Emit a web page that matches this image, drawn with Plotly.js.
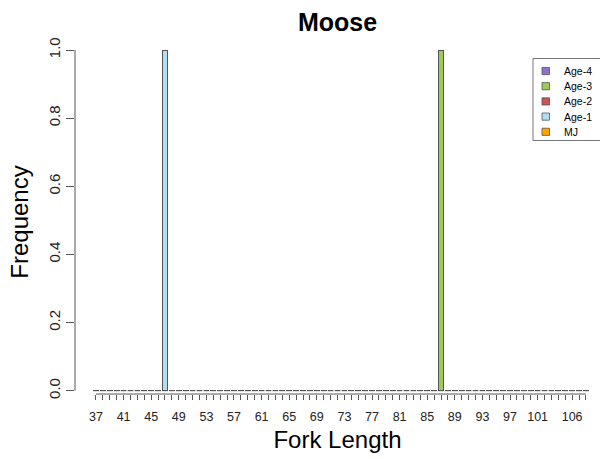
<!DOCTYPE html>
<html>
<head>
<meta charset="utf-8">
<script src="https://cdn.plot.ly/plotly-3.0.1.min.js"></script>
<style>html,body{margin:0;padding:0;background:#fff;}#chart{width:600px;height:459px;}</style>
</head>
<body>
<div id="chart"></div>
<script>
// Fork length categories (37..108)
const categories = [];
for (let c = 37; c <= 108; c++) categories.push(c);

// Labels that R managed to print without overlap
const shownLabels = [37,41,45,49,53,57,61,65,69,73,77,81,85,89,93,97,101,106];

// Series (frequency by fork length), sparse values
const seriesNames = ['MJ', 'Age-1', 'Age-2', 'Age-3', 'Age-4'];
const seriesColors = ['#FFA500', '#B0DCF4', '#CD5555', '#9CCB58', '#8E72D0'];
const mjValues   = {};
const age1Values = {47: 1};
const age2Values = {};
const age3Values = {87: 1};
const age4Values = {};
const seriesValues = [mjValues, age1Values, age2Values, age3Values, age4Values];

const barWidth = 1 / 1.2;
const edge = '#555555';

const traces = seriesNames.map((name, i) => ({
  type: 'bar',
  name: name,
  x: categories,
  y: categories.map(c => seriesValues[i][c] || 0),
  width: barWidth,
  marker: {color: seriesColors[i], line: {color: edge, width: 1}},
  hoverinfo: 'x+y+name',
  showlegend: false
}));

// zero-height bar outlines (R draws them as short segments on the baseline)
const bx = [], by = [];
categories.forEach(c => { bx.push(c - barWidth/2, c + barWidth/2, null); by.push(0, 0, null); });
traces.unshift({
  type: 'scatter', mode: 'lines', x: bx, y: by,
  line: {color: edge, width: 1}, showlegend: false, hoverinfo: 'skip'
});

const font = 'Liberation Sans, Arial, Helvetica, sans-serif';

// plot-area geometry (pixels) used to place the hand-drawn R-style legend
const M = {l: 75, r: 0, t: 50, b: 65};
const W = 600, H = 459;
const pw = W - M.l - M.r, ph = H - M.t - M.b;
const px2x = p => (p - M.l) / pw;
const px2y = p => (H - M.b - p) / ph;

const shapes = [
  {type: 'line', xref: 'paper', yref: 'y', x0: 0, x1: 0, y0: 0, y1: 1, line: {color: edge, width: 1}},
  {type: 'line', xref: 'x', yref: 'paper', x0: categories[0], x1: categories[categories.length-1], y0: 0, y1: 0, line: {color: edge, width: 1}}
];
const annotations = [];

// legend box (reversed order: Age-4 on top)
const legTop = 58.5, legLeft = 533, rowH = 15.2, firstRow = 71;
shapes.push({type: 'rect', xref: 'paper', yref: 'paper',
  x0: px2x(legLeft), x1: px2x(640), y0: px2y(legTop), y1: px2y(140.5),
  line: {color: '#777', width: 1}, fillcolor: 'rgba(255,255,255,0)'});
const order = seriesNames.map((n, i) => i).reverse();
order.forEach((si, k) => {
  const cy = firstRow + k * rowH;
  shapes.push({type: 'rect', xref: 'paper', yref: 'paper',
    x0: px2x(542), x1: px2x(549.5), y0: px2y(cy - 3.6), y1: px2y(cy + 3.6),
    line: {color: '#444', width: 0.7}, fillcolor: seriesColors[si]});
  annotations.push({xref: 'paper', yref: 'paper', x: px2x(562), y: px2y(cy),
    xanchor: 'left', yanchor: 'middle', showarrow: false, text: seriesNames[si],
    font: {family: font, size: 10.5, color: '#000'}});
});

const layout = {
  width: W, height: H,
  margin: M,
  paper_bgcolor: '#ffffff', plot_bgcolor: '#ffffff',
  barmode: 'stack',
  showlegend: false,
  font: {family: font, color: '#000'},
  title: {text: '<b>Moose</b>', font: {family: font, size: 25, color: '#000'},
          x: 0.5, xref: 'paper', xanchor: 'center', y: 1 - 22/459, yref: 'container', yanchor: 'middle'},
  xaxis: {
    range: [33.96, 110.04],
    tickmode: 'array',
    tickvals: categories,
    ticktext: categories.map(c => shownLabels.includes(c) ? String(c) : ''),
    ticks: 'outside', ticklen: 5, tickcolor: edge, tickwidth: 1,
    tickangle: 0,
    ticklabelstandoff: 6,
    tickfont: {family: font, size: 12.5, color: '#222'},
    showgrid: false, zeroline: false, showline: false,
    title: {text: 'Fork Length', font: {family: font, size: 24, color: '#000'}, standoff: 8}
  },
  yaxis: {
    range: [-0.0097, 1],
    tickmode: 'array',
    tickvals: [0, 0.2, 0.4, 0.6, 0.8, 1.0],
    ticktext: ['0.0', '0.2', '0.4', '0.6', '0.8', '1.0'],
    ticks: 'outside', ticklen: 8, tickcolor: edge, tickwidth: 1,
    tickangle: -90,
    tickfont: {family: font, size: 15, color: '#222'},
    showgrid: false, zeroline: false, showline: false,
    title: {text: 'Frequency', font: {family: font, size: 24, color: '#000'}, standoff: 10}
  },
  shapes: shapes,
  annotations: annotations
};

Plotly.newPlot('chart', traces, layout, {displayModeBar: false, staticPlot: true});
</script>
</body>
</html>
